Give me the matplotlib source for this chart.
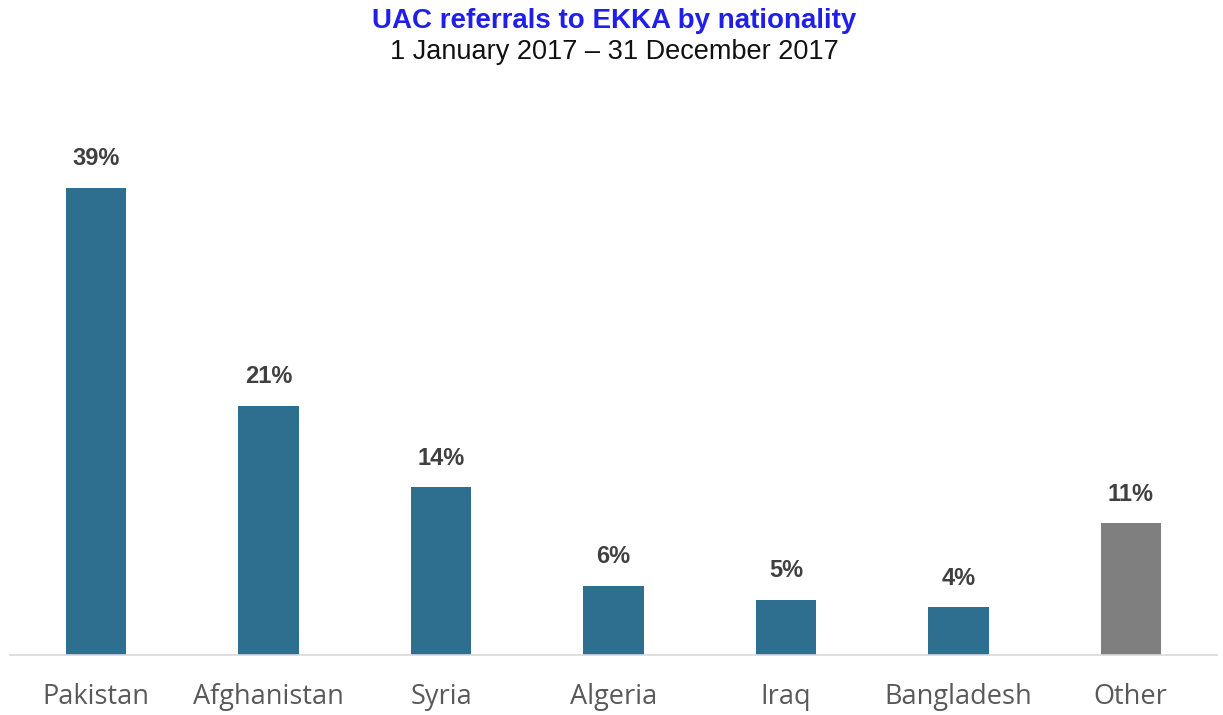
import matplotlib
matplotlib.use("Agg")
import matplotlib.pyplot as plt

countries = ['Pakistan', 'Afghanistan', 'Syria', 'Algeria', 'Iraq', 'Bangladesh', 'Other']
shares = [39, 20.8, 14, 5.8, 4.6, 4.0, 11]
labels = ['39%', '21%', '14%', '6%', '5%', '4%', '11%']
colors = ['#2E6E8E'] * 6 + ['#7F7F7F']

fig = plt.figure(figsize=(12.23, 7.15), dpi=100)
ax = fig.add_axes([10 / 1223, 60 / 715, 1207 / 1223, 515 / 715])

x = range(len(countries))
bars = ax.bar(x, shares, width=0.35, color=colors)

for b, lab in zip(bars, labels):
    ax.annotate(lab, (b.get_x() + b.get_width() / 2, b.get_height()),
                xytext=(0, 29), textcoords='offset pixels',
                ha='center', va='center', fontsize=17, fontweight='bold',
                color='#404040', family='Liberation Sans')

ax.set_xlim(-0.5, 6.5)
ax.set_ylim(0, 43)
ax.set_xticks(list(x))
ax.set_xticklabels(countries, family='Open Sans', fontsize=19.5, color='#595959')
ax.tick_params(axis='x', length=0, pad=20)
ax.set_yticks([])
for s in ['top', 'right', 'left']:
    ax.spines[s].set_visible(False)
ax.spines['bottom'].set_color('#D9D9D9')
ax.spines['bottom'].set_linewidth(1.2)

fig.text(0.502, 1 - 21 / 715, 'UAC referrals to EKKA by nationality', ha='center', va='center',
         fontsize=20, fontweight='bold', color='#1F1FE8', family='Liberation Sans')
fig.text(0.502, 1 - 52 / 715, '1 January 2017 \u2013 31 December 2017', ha='center', va='center',
         fontsize=19.5, color='#111111', family='Liberation Sans')

fig.savefig('out.png', dpi=100)
